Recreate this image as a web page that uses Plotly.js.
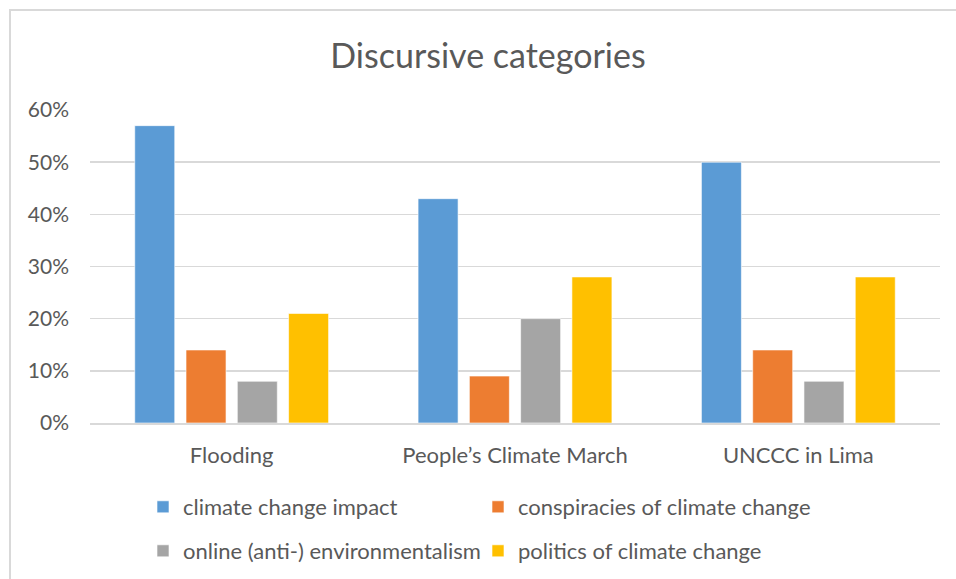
<!DOCTYPE html>
<html>
<head>
<meta charset="utf-8">
<script src="https://cdn.plot.ly/plotly-3.0.1.min.js"></script>
<style>
html,body{margin:0;padding:0;background:#fff;overflow:hidden;}
#chart{width:956px;height:579px;}
#frame{position:absolute;left:9px;top:9px;width:1000px;height:1000px;border:2px solid #d9d9d9;pointer-events:none;}
</style>
</head>
<body>
<div id="chart"></div>
<div id="frame"></div>
<script>
var categories = ["Flooding", "People\u2019s Climate March", "UNCCC in Lima"];
var seriesNames = ["climate change impact", "conspiracies of climate change", "online (anti-) environmentalism", "politics of climate change"];
var climateImpact = [0.57, 0.43, 0.50];
var conspiracies = [0.14, 0.09, 0.14];
var onlineEnv = [0.08, 0.20, 0.08];
var politics = [0.21, 0.28, 0.28];
var yTicks = [0, 0.1, 0.2, 0.3, 0.4, 0.5, 0.6];
var yTickLabels = ["0%", "10%", "20%", "30%", "40%", "50%", "60%"];

var colors = ["#5B9BD5", "#ED7D31", "#A5A5A5", "#FFC000"];
var values = [climateImpact, conspiracies, onlineEnv, politics];
var legendIds = ["legend", "legend", "legend2", "legend2"];
var font = "Lato, 'Open Sans', sans-serif";
var traces = values.map(function(v, i){
  return {
    type: "bar", x: categories, y: v, name: seriesNames[i], legend: legendIds[i],
    marker: {color: colors[i], line: {color: "rgba(255,255,255,0.6)", width: 1}},
    hoverinfo: "y+name"
  };
});

function legendRow(yPix){
  return {
    orientation: "h", x: (163 - 20) / 956, xanchor: "left", xref: "container",
    y: 1 - yPix / 579, yanchor: "middle", yref: "container",
    font: {family: font, size: 22, color: "#595959"},
    entrywidth: 290, entrywidthmode: "pixels", tracegroupgap: 0, itemclick: false,
    bgcolor: "rgba(0,0,0,0)"
  };
}

var layout = {
  width: 956, height: 579,
  margin: {l: 90, r: 16, t: 110, b: 156, autoexpand: false},
  paper_bgcolor: "#fff", plot_bgcolor: "#fff",
  font: {family: font, color: "#595959", size: 19},
  title: {text: "Discursive categories", font: {family: font, size: 34, color: "#595959"}, x: 488/956, xref: "container", xanchor: "center", y: 1 - 56/579, yanchor: "middle"},
  barmode: "group", bargap: 0.276, bargroupgap: 0.22,
  xaxis: {
    showgrid: false, showline: true, linecolor: "#d9d9d9", linewidth: 1.5,
    tickfont: {family: font, size: 22, color: "#595959"},
    ticks: "", ticklabelstandoff: 12, fixedrange: true, automargin: false
  },
  yaxis: {
    range: [0, 0.6], tickvals: yTicks, ticktext: yTickLabels,
    showgrid: true, gridcolor: "#d9d9d9", gridwidth: 1.5,
    zeroline: false, showline: false, ticks: "",
    tickfont: {family: font, size: 21, color: "#595959"},
    ticklabelstandoff: 20, fixedrange: true, automargin: false
  },
  showlegend: true,
  legend: legendRow(507),
  legend2: legendRow(551)
};
Plotly.newPlot("chart", traces, layout, {displayModeBar: false, staticPlot: true});
</script>
</body>
</html>
